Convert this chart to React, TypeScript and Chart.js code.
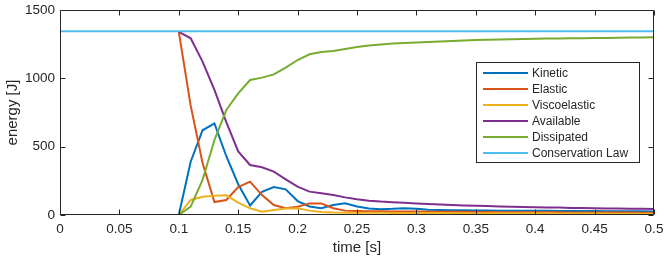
import React, { useEffect, useRef } from "react";
import { Chart, registerables } from "chart.js";

Chart.register(...registerables);

const times = [
  0, 0.01, 0.02, 0.03, 0.04, 0.05, 0.06, 0.07, 0.08, 0.09,
  0.1, 0.11, 0.12, 0.13, 0.14, 0.15, 0.16, 0.17, 0.18, 0.19,
  0.2, 0.21, 0.22, 0.23, 0.24, 0.25, 0.26, 0.27, 0.28, 0.29,
  0.3, 0.31, 0.32, 0.33, 0.34, 0.35, 0.36, 0.37, 0.38, 0.39,
  0.4, 0.41, 0.42, 0.43, 0.44, 0.45, 0.46, 0.47, 0.48, 0.49, 0.5,
];

const kinetic = [
  0, 0, 0, 0, 0, 0, 0, 0, 0, 0,
  0, 390, 620, 670, 430, 225, 70, 170, 205, 188,
  102, 62, 50, 73, 85, 62, 48, 42, 45, 50,
  45, 38, 36, 35, 34, 33, 33, 32, 32, 32,
  31, 31, 30, 30, 29, 29, 28, 28, 27, 27, 26,
];

// values before 0.1 lie under the Conservation Law line in the reference
const elastic = [
  null, null, null, null, null, null, null, null, null, null,
  1340, 800, 380, 95, 110, 205, 244, 146, 73, 49,
  61, 85, 85, 50, 32, 30, 28, 27, 26, 25,
  25, 24, 24, 23, 23, 22, 22, 21, 21, 21,
  20, 20, 20, 19, 19, 19, 18, 18, 18, 17, 17,
];

const viscoelastic = [
  0, 0, 0, 0, 0, 0, 0, 0, 0, 0,
  0, 110, 134, 141, 144, 90, 49, 24, 37, 47,
  49, 32, 22, 18, 17, 17, 16, 16, 15, 15,
  14, 14, 14, 13, 13, 13, 13, 12, 12, 12,
  12, 12, 11, 11, 11, 11, 11, 10, 10, 10, 10,
];

const available = [
  null, null, null, null, null, null, null, null, null, null,
  1340, 1293, 1122, 915, 680, 465, 366, 349, 317, 261,
  207, 171, 159, 146, 129, 115, 104, 98, 94, 90,
  85, 81, 77, 73, 70, 67, 65, 63, 61, 59,
  57, 55, 54, 52, 51, 49, 48, 47, 46, 45, 44,
];

const dissipated = [
  0, 0, 0, 0, 0, 0, 0, 0, 0, 0,
  0, 61, 256, 549, 768, 890, 988, 1005, 1029, 1078,
  1134, 1176, 1192, 1200, 1214, 1229, 1241, 1248, 1254, 1258,
  1262, 1266, 1270, 1274, 1277, 1280, 1282, 1284, 1286, 1288,
  1290, 1291, 1292, 1293, 1294, 1295, 1296, 1297, 1298, 1299, 1300,
];

const conservation = [
  1345, 1345, 1345, 1345, 1345, 1345, 1345, 1345, 1345, 1345,
  1345, 1345, 1345, 1345, 1345, 1345, 1345, 1345, 1345, 1345,
  1345, 1345, 1345, 1345, 1345, 1345, 1345, 1345, 1345, 1345,
  1345, 1345, 1345, 1345, 1345, 1345, 1345, 1345, 1345, 1345,
  1345, 1345, 1345, 1345, 1345, 1345, 1345, 1345, 1345, 1345, 1345,
];

const seriesNames = ["Kinetic", "Elastic", "Viscoelastic", "Available", "Dissipated", "Conservation Law"];
const seriesValues = [kinetic, elastic, viscoelastic, available, dissipated, conservation];
const seriesColors = ["#0072BD", "#D95319", "#EDB120", "#7E2F8E", "#77AC30", "#4DBEEE"];

const xLabel = "time [s]";
const yLabel = "energy [J]";

const FONT = '"Liberation Sans", Arial, Helvetica, sans-serif';
const INK = "#262626";

const boxPlugin = {
  id: "matlabBox",
  afterDraw(chart: any) {
    const { ctx, chartArea, scales } = chart;
    const { left, top, right, bottom } = chartArea;
    const xs = scales.x;
    const ys = scales.y;
    ctx.save();
    ctx.strokeStyle = INK;
    ctx.lineWidth = 1;
    ctx.beginPath();
    const L = Math.round(left) + 0.5;
    const R = Math.round(right) - 0.5;
    const T = Math.round(top) + 0.5;
    const B = Math.round(bottom) - 0.5;
    ctx.rect(L, T, R - L, B - T);
    const tl = 5;
    xs.ticks.forEach((t: any) => {
      const p = Math.round(xs.getPixelForValue(t.value)) + 0.5;
      ctx.moveTo(p, B);
      ctx.lineTo(p, B - tl);
      ctx.moveTo(p, T);
      ctx.lineTo(p, T + tl);
    });
    ys.ticks.forEach((t: any) => {
      const p = Math.round(ys.getPixelForValue(t.value)) + 0.5;
      ctx.moveTo(L, p);
      ctx.lineTo(L + tl, p);
      ctx.moveTo(R, p);
      ctx.lineTo(R - tl, p);
    });
    ctx.stroke();

    // legend
    const lx = 476, ly = 62, lw = 164, lh = 101;
    ctx.fillStyle = "#ffffff";
    ctx.fillRect(lx, ly, lw, lh);
    ctx.strokeStyle = INK;
    ctx.lineWidth = 1;
    ctx.strokeRect(lx + 0.5, ly + 0.5, lw - 1, lh - 1);
    ctx.font = `12px ${FONT}`;
    ctx.textBaseline = "middle";
    ctx.textAlign = "left";
    chart.data.datasets.forEach((ds: any, i: number) => {
      const yy = ly + 11 + i * 16;
      ctx.strokeStyle = ds.borderColor;
      ctx.lineWidth = 2;
      ctx.beginPath();
      ctx.moveTo(lx + 7, yy);
      ctx.lineTo(lx + 52, yy);
      ctx.stroke();
      ctx.fillStyle = INK;
      ctx.fillText(ds.label, lx + 56, yy + 0.5);
    });
    ctx.restore();
  },
};

const zeroPad = (s: any) => {
  s.paddingTop = 0;
  s.paddingBottom = 0;
  s.paddingLeft = 0;
  s.paddingRight = 0;
};

export default function App() {
  const ref = useRef<HTMLCanvasElement | null>(null);
  useEffect(() => {
    if (!ref.current) return;
    const datasets = seriesNames.map((name, i) => ({
      label: name,
      data: times.map((t, j) => ({ x: t, y: seriesValues[i][j] })),
      borderColor: seriesColors[i],
      backgroundColor: seriesColors[i],
      borderWidth: 2,
      pointRadius: 0,
      tension: 0,
      fill: false,
      spanGaps: false,
      order: seriesNames.length - i,
    }));
    const chart = new Chart(ref.current, {
      type: "line",
      data: { datasets },
      plugins: [boxPlugin],
      options: {
        animation: false,
        responsive: false,
        maintainAspectRatio: false,
        devicePixelRatio: 1,
        layout: { padding: { top: 10, right: 10, left: 0, bottom: 0 } },
        plugins: { legend: { display: false }, tooltip: { enabled: false } },
        scales: {
          x: {
            type: "linear",
            min: 0,
            max: 0.5,
            grid: { display: false, drawTicks: false },
            border: { display: false },
            ticks: {
              stepSize: 0.05,
              color: INK,
              font: { family: FONT, size: 13.5 },
              padding: 6,
              maxRotation: 0,
              autoSkip: false,
              callback: (v: any) => String(parseFloat(Number(v).toFixed(2))),
            },
            title: {
              display: true,
              text: xLabel,
              color: INK,
              font: { family: FONT, size: 15 },
              padding: { top: 0, bottom: 3 },
            },
            afterFit: (s: any) => {
              s.height = 45;
              zeroPad(s);
            },
          },
          y: {
            type: "linear",
            min: 0,
            max: 1500,
            grid: { display: false, drawTicks: false },
            border: { display: false },
            ticks: {
              stepSize: 500,
              color: INK,
              font: { family: FONT, size: 13.5 },
              padding: 5,
              callback: (v: any) => String(v),
            },
            title: {
              display: true,
              text: yLabel,
              color: INK,
              font: { family: FONT, size: 15 },
              padding: { top: 4, bottom: 0 },
            },
            afterFit: (s: any) => {
              s.width = 60;
              zeroPad(s);
            },
          },
        },
      },
    });
    return () => chart.destroy();
  }, []);
  return (
    <div style={{ position: "fixed", left: 0, top: 0, width: 664, height: 260, background: "#fff" }}>
      <canvas ref={ref} width={664} height={260} style={{ width: 664, height: 260 }} />
    </div>
  );
}
